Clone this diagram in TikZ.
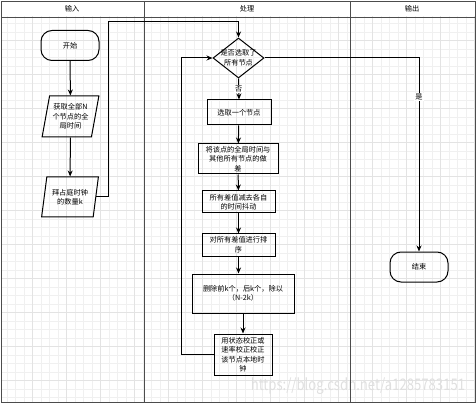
\documentclass[tikz,border=0pt]{standalone}
\usepackage{fontspec}
\setmainfont{Noto Sans CJK SC}
\usetikzlibrary{shapes.geometric,arrows.meta}
\newcommand{\flowfont}{\fontsize{7.2}{9.5}\selectfont}
\tikzset{
  lane/.style={draw=black!70, line width=0.9pt},
  proc/.style={draw, line width=1pt, rectangle, inner sep=1pt, align=center, font=\flowfont},
  term/.style={draw, line width=1pt, rounded corners=11pt, minimum width=58pt, minimum height=30pt, font=\flowfont},
  io/.style={draw, line width=1pt, trapezium, trapezium left angle=76, trapezium right angle=104,
    trapezium stretches=true, minimum width=57pt, minimum height=41pt, inner sep=0pt, align=center, font=\flowfont},
  flow/.style={->, line width=1pt},
  tag/.style={fill=white, inner sep=1pt, font=\flowfont},
}
\begin{document}
\begin{tikzpicture}[x=1pt, y=-1pt, >={Stealth[length=6pt,width=5pt]}]
    \useasboundingbox (0,0) rectangle (476,403);
    % Background grid
    \begin{scope}
        \clip (1,17) rectangle (475,402);
        \draw[shift={(-1.3,6.3)}, gray!12, line width=0.5pt, step=8.5pt] (0,0) grid (480,400);
        \draw[shift={(-1.3,6.3)}, gray!22, line width=0.6pt, step=34pt] (0,0) grid (480,400);
    \end{scope}
    % Watermark
    \node[anchor=base east, gray!25, font=\fontsize{16}{16}\selectfont, xscale=0.82, transform shape] (mark) at (468,390) {https://blog.csdn.net/a1285783151};
    % Swimlanes
    \draw[lane] (1,1) rectangle (475,402);
    \draw[lane] (1,17) -- (475,17);
    \draw[lane] (144,1) -- (144,402);
    \draw[lane] (350,1) -- (350,402);
    \node[font=\flowfont] (hin) at (72,9) {输入};
    \node[font=\flowfont] (hproc) at (247,9) {处理};
    \node[font=\flowfont] (hout) at (412,9) {输出};
    % Input lane
    \node[term] (start) at (70,45.5) {开始};
    \node[io] (getall) at (70.5,116.5) {获取全部N\\个节点的全\\局时间};
    \node[io, minimum height=40pt] (byz) at (70,197) {拜占庭时钟\\的数量k};
    % Processing lane
    \node[draw, diamond, line width=1pt, minimum width=51pt, minimum height=40pt, inner sep=0pt,
          label={[font=\flowfont, align=center]center:是否选取了\\所有节点}] (done) at (238.5,58) {};
    \node[proc, minimum width=64pt, minimum height=25pt] (pick) at (239,112.5) {选取一个节点};
    \node[proc, minimum width=80pt, minimum height=30pt] (diff) at (238,159) {将该点的全局时间与\\其他所有节点的做\\差};
    \node[proc, minimum width=73pt, minimum height=22pt] (jitter) at (238.5,202) {所有差值减去各自\\的时间抖动};
    \node[proc, minimum width=73pt, minimum height=22pt] (sort) at (238.5,245) {对所有差值进行排\\序};
    \node[proc, minimum width=102pt, minimum height=39pt] (trim) at (243,293.5) {删除前k个，后k个，除以\\（N-2k）};
    \node[proc, minimum width=58pt, minimum height=41pt] (fix) at (243,354.5) {用状态校正或\\速率校正校正\\该节点本地时\\钟};
    % Output lane
    \node[term] (stop) at (419,267) {结束};
    % Bend points
    \coordinate (up) at (108,22);
    \coordinate (back) at (181,58);
    % Connectors
    \draw[flow] (start) -- (getall);
    \draw[flow] (getall) -- (byz);
    \draw[flow] (byz.east) -| (up) -| (done.north);
    \draw[flow] (done.south) -- node[tag] (no) {否} (pick.north);
    \draw[flow] (pick) -- (diff);
    \draw[flow] (diff) -- (jitter);
    \draw[flow] (jitter) -- (sort);
    \draw[flow] (sort.south) -- (sort.south |- trim.north);
    \draw[flow] (trim) -- (fix);
    \draw[flow] (fix.west) -| (back) -- (done.west);
    \draw[flow] (done.east) -| node[tag, pos=0.6] (yes) {是} (stop.north);
\end{tikzpicture}
\end{document}
